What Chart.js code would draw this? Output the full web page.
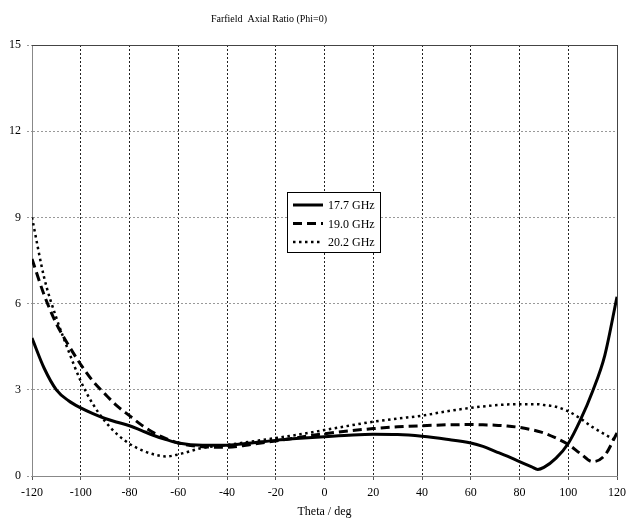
<!DOCTYPE html>
<html>
<head>
<meta charset="utf-8">
<script src="https://cdn.jsdelivr.net/npm/chart.js@4"></script>
<style>
  body { margin: 0; background: #fff; }
  #wrap { width: 629px; height: 519px; }
</style>
</head>
<body>
<div id="wrap"><canvas id="arChart" width="629" height="519"></canvas></div>
<script>
// theta (deg)
const theta = [-120, -115, -110, -105, -100, -95, -90, -85, -80, -75, -70, -65, -60,
  -50, -40, -30, -20, -10, 0, 10, 20, 30, 40, 50, 60,
  65, 70, 75, 80, 85, 87.5, 90, 95, 100, 105, 110, 115, 120];

// axial ratio values
const ar177 = [4.8, 3.75, 3.0, 2.62, 2.37, 2.17, 2.0, 1.87, 1.75, 1.58, 1.41, 1.27, 1.15,
  1.07, 1.07, 1.15, 1.24, 1.31, 1.37, 1.42, 1.45, 1.44, 1.38, 1.28, 1.15,
  1.03, 0.86, 0.69, 0.5, 0.32, 0.23, 0.3, 0.62, 1.13, 1.95, 2.95, 4.2, 6.24];
const ar190 = [7.55, 6.3, 5.3, 4.55, 3.88, 3.3, 2.85, 2.43, 2.1, 1.77, 1.5, 1.3, 1.15,
  1.02, 1.0, 1.1, 1.22, 1.35, 1.47, 1.57, 1.65, 1.71, 1.75, 1.78, 1.79,
  1.78, 1.77, 1.74, 1.69, 1.61, 1.56, 1.5, 1.32, 1.1, 0.78, 0.5, 0.72, 1.5];
const ar202 = [9.0, 6.9, 5.5, 4.35, 3.3, 2.5, 1.9, 1.45, 1.12, 0.9, 0.75, 0.68, 0.75,
  0.98, 1.08, 1.2, 1.32, 1.45, 1.6, 1.75, 1.89, 2.0, 2.1, 2.25, 2.37,
  2.42, 2.46, 2.49, 2.5, 2.5, 2.5, 2.47, 2.41, 2.25, 2.0, 1.7, 1.45, 1.2];

const seriesNames = ["17.7 GHz", "19.0 GHz", "20.2 GHz"];
const yTicks = [0, 3, 6, 9, 12, 15];

const toPoints = arr => arr.map((v, i) => ({ x: theta[i], y: v }));
const serif = "'Liberation Serif', 'DejaVu Serif', serif";

// title, frame and boxed legend inside the plot
const decorPlugin = {
    id: "decor",
    afterDraw(chart) {
        const ctx = chart.ctx;
        const a = chart.chartArea;
        ctx.save();
        // frame top / right
        ctx.strokeStyle = "#444";
        ctx.lineWidth = 1;
        ctx.beginPath();
        ctx.moveTo(a.left, a.top + 0.5);
        ctx.lineTo(a.right + 0.5, a.top + 0.5);
        ctx.lineTo(a.right + 0.5, a.bottom);
        ctx.stroke();

        // title
        ctx.fillStyle = "#000";
        ctx.font = "10px " + serif;
        ctx.textAlign = "center";
        ctx.textBaseline = "middle";
        ctx.fillText("Farfield  Axial Ratio (Phi=0)", 269, 19);

        // legend box
        const bx = 287, by = 192, bw = 93, bh = 60;
        ctx.fillStyle = "#fff";
        ctx.fillRect(bx, by, bw, bh);
        ctx.strokeStyle = "#000";
        ctx.lineWidth = 1;
        ctx.strokeRect(bx + 0.5, by + 0.5, bw, bh);
        ctx.font = "12px " + serif;
        ctx.textAlign = "left";
        chart.data.datasets.forEach((ds, i) => {
            const y = 205 + i * 18.5;
            ctx.strokeStyle = "#000";
            ctx.lineWidth = ds.borderWidth;
            ctx.setLineDash(ds.borderDash || []);
            ctx.beginPath();
            ctx.moveTo(293, y);
            ctx.lineTo(323, y);
            ctx.stroke();
            ctx.setLineDash([]);
            ctx.fillStyle = "#000";
            ctx.fillText(ds.label, 328, y + 1);
        });
        ctx.restore();
    }
};

new Chart(document.getElementById("arChart").getContext("2d"), {
    type: "line",
    data: {
        datasets: [
            {
                label: seriesNames[0],
                data: toPoints(ar177),
                borderColor: "#000",
                borderWidth: 3,
                pointRadius: 0,
                cubicInterpolationMode: "monotone"
            },
            {
                label: seriesNames[1],
                data: toPoints(ar190),
                borderColor: "#000",
                borderWidth: 3,
                borderDash: [9, 5],
                pointRadius: 0,
                cubicInterpolationMode: "monotone"
            },
            {
                label: seriesNames[2],
                data: toPoints(ar202),
                borderColor: "#000",
                borderWidth: 2.5,
                borderDash: [2.5, 3.5],
                pointRadius: 0,
                cubicInterpolationMode: "monotone"
            }
        ]
    },
    options: {
        responsive: false,
        animation: false,
        layout: { padding: { top: 45, right: 12, left: 0, bottom: 0 } },
        plugins: {
            legend: { display: false },
            title: { display: false },
            tooltip: { enabled: false }
        },
        scales: {
            x: {
                type: "linear",
                min: -120,
                max: 120,
                afterFit: s => {
                    s.height = 43;
                    s.paddingLeft = 0;
                    s.paddingRight = 0;
                },
                ticks: {
                    stepSize: 20,
                    color: "#000",
                    padding: 6,
                    maxRotation: 0,
                    font: { family: serif, size: 12 }
                },
                grid: {
                    color: "#222",
                    tickLength: 4,
                    tickColor: "#555",
                    tickBorderDash: []
                },
                border: { display: true, color: "#888", width: 1, dash: [2, 2] },
                title: {
                    display: true,
                    text: "Theta / deg",
                    color: "#000",
                    padding: 0,
                    font: { family: serif, size: 12 }
                }
            },
            y: {
                type: "linear",
                min: 0,
                max: 15,
                afterFit: s => { s.width = 32; },
                afterBuildTicks: s => { s.ticks = yTicks.map(v => ({ value: v })); },
                ticks: {
                    color: "#000",
                    padding: 6,
                    font: { family: serif, size: 12 }
                },
                grid: {
                    color: "#999",
                    tickLength: 5,
                    tickColor: "#999",
                    tickBorderDash: [2, 2]
                },
                border: { display: true, color: "#888", width: 1, dash: [2, 2] }
            }
        }
    },
    plugins: [decorPlugin]
});
</script>
</body>
</html>
